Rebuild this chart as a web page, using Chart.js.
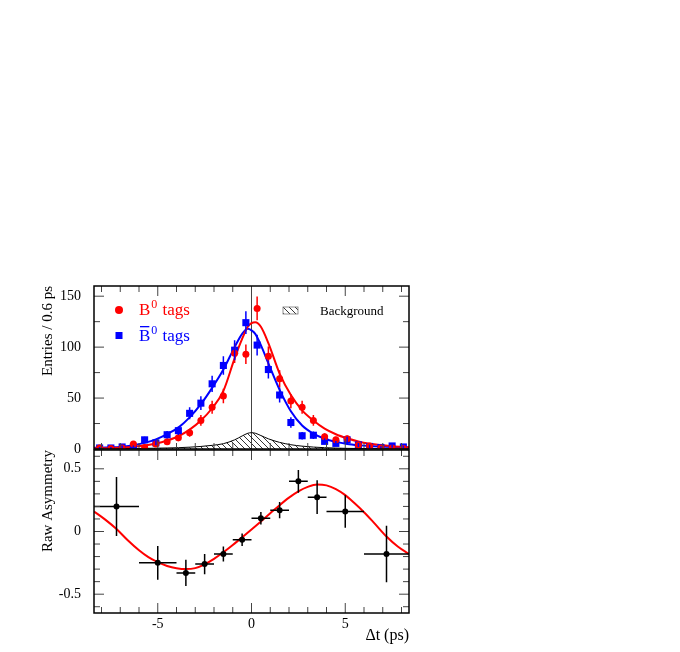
<!DOCTYPE html>
<html>
<head>
<meta charset="utf-8">
<script src="https://cdn.jsdelivr.net/npm/chart.js@4"></script>
<style>
  body { margin:0; background:#fff; }
  #wrap { position:relative; width:680px; height:652px; }
  canvas { position:absolute; left:0; }
  #top { top:270px; }
  #bot { top:440px; }
</style>
</head>
<body>
<div id="wrap">
  <canvas id="top" width="680" height="195"></canvas>
  <canvas id="bot" width="680" height="212"></canvas>
</div>
<script>
// ===== Δt distribution, 0.6 ps bins =====
const binCentres = [-8.1,-7.5,-6.9,-6.3,-5.7,-5.1,-4.5,-3.9,-3.3,-2.7,-2.1,-1.5,-0.9,-0.3,0.3,0.9,1.5,2.1,2.7,3.3,3.9,4.5,5.1,5.7,6.3,6.9,7.5,8.1];
const b0Tags    = [1,0.5,1,5,1.5,5,7,11,16,28,41,52,94,93,138,91,69,47,41,28,12,9,10,4,3,1,1,0.5];
const b0Err     = [1,0.7,1,2.2,1.2,2.2,2.6,3.3,4,5.3,6.4,7.2,9.7,9.6,11.7,9.5,8.3,6.9,6.4,5.3,3.5,3,3.2,2,1.7,1,1,0.7];
const b0barTags = [1,1,2,2,9,6,14,18,35,45,64,82,97,124,102,78,53,26,13,13.5,7.5,5.5,9,4,2.5,1.5,3,2];
const b0barErr  = [1,1,1.4,1.4,3,2.4,3.7,4.2,5.9,6.7,8,9.1,9.8,11.1,10.1,8.8,7.3,5.1,3.6,3.7,2.7,2.3,3,2,1.6,1.2,1.7,1.4];

// ===== Fit curves =====
const fitT     = [-8.4,-7.5,-6.9,-6.3,-5.7,-5.1,-4.5,-3.9,-3.3,-2.7,-2.1,-1.5,-0.9,-0.5,-0.2,0,0.2,0.5,0.9,1.5,2.1,2.7,3.3,3.9,4.5,5.1,5.7,6.3,7.5,8.4];
const b0Fit    = [0.5,0.9,1.4,2.2,3.4,5.3,8.3,12.5,19,28,40,57,89,108,120,123.5,124.5,120,104,74,53,38,28,20,14.5,10.5,7.3,5.2,2.8,1.8];
const b0barFit = [1.2,1.6,2.3,3.6,6,9.5,14.7,21,31,44,60,78,100,113,118,116.5,113,102,84,58,37,23,15,10,7,5,3.8,3,2,1.5];
const bkgFit   = [0.2,0.3,0.4,0.5,0.6,0.8,1,1.3,1.8,2.5,3.6,5.2,9,12.8,15.4,16,15.5,13.2,10,6.5,4.2,2.8,1.9,1.3,0.9,0.6,0.5,0.4,0.2,0.1];

// ===== Raw asymmetry =====
const asymT   = [-7.2,-5,-3.5,-2.5,-1.5,-0.5,0.5,1.5,2.5,3.5,5,7.2];
const asymLo  = [-8.4,-6,-4,-3,-2,-1,0,1,2,3,4,6];
const asymHi  = [-6,-4,-3,-2,-1,0,1,2,3,4,6,8.4];
const asymVal = [0.20,-0.25,-0.33,-0.26,-0.18,-0.066,0.106,0.17,0.40,0.274,0.16,-0.18];
const asymErr = [0.235,0.135,0.105,0.08,0.06,0.05,0.05,0.065,0.09,0.135,0.13,0.225];
const asymFitT = [-8.4,-7.8,-7.2,-6.6,-6,-5.5,-5,-4.5,-4,-3.5,-3,-2.5,-2,-1.5,-1,-0.5,0,0.5,1,1.5,2,2.5,3,3.5,4,4.5,5,5.5,6,6.5,7.2,7.8,8.4];
const asymFit  = [0.16,0.095,0.02,-0.07,-0.15,-0.205,-0.245,-0.275,-0.293,-0.30,-0.292,-0.262,-0.218,-0.166,-0.108,-0.046,0.016,0.08,0.145,0.21,0.27,0.32,0.356,0.375,0.368,0.338,0.29,0.225,0.154,0.075,-0.04,-0.12,-0.18];

// ===== Ticks =====
const xLabels    = [-5, 0, 5];
const xMinor     = [-8,-7,-6,-4,-3,-2,-1,1,2,3,4,6,7,8];
const yTopLabels = [0, 50, 100, 150];
const yTopMinor  = [25, 75, 125];
const yBotLabels = [-0.5, 0, 0.5];
const yBotMinor  = [-0.6,-0.4,-0.3,-0.2,-0.1,0.1,0.2,0.3,0.4,0.6];

const RED = '#ff0000', BLUE = '#0000ff';
const SERIF = "'Liberation Serif', 'DejaVu Serif', serif";
Chart.defaults.font.family = SERIF;
Chart.defaults.font.size = 14;
Chart.defaults.color = '#000';

const pts = (xs, ys) => xs.map((x, i) => ({x: x, y: ys[i]}));
// fixed axis boxes, no label overhang padding
const fixW = w => s => { s.width = w; s.paddingTop = 0; s.paddingBottom = 0; s.paddingLeft = 0; s.paddingRight = 0; };
const fixH = h => s => { s.height = h; s.paddingTop = 0; s.paddingBottom = 0; s.paddingLeft = 0; s.paddingRight = 0; };

// ===== Hatch pattern =====
function hatch(){
  const c = document.createElement('canvas'); c.width = 6; c.height = 6;
  const g = c.getContext('2d');
  g.strokeStyle = '#000'; g.lineWidth = 0.8;
  g.beginPath();
  g.moveTo(0,0); g.lineTo(6,6);
  g.moveTo(-3,3); g.lineTo(3,9);
  g.moveTo(3,-3); g.lineTo(9,3);
  g.stroke();
  return g.createPattern(c, 'repeat');
}
const hatchFill = hatch();

// ===== Plugins =====
const errorBars = {
  id: 'errorBars',
  afterDatasetsDraw(chart){
    const {ctx, chartArea: a, scales: {x, y}} = chart;
    ctx.save();
    ctx.beginPath(); ctx.rect(a.left, a.top, a.width, a.height); ctx.clip();
    chart.data.datasets.forEach(ds => {
      if(!ds.errY) return;
      ctx.strokeStyle = ds.pointBackgroundColor; ctx.lineWidth = 1.5;
      ctx.beginPath();
      ds.data.forEach((p, j) => {
        const px = x.getPixelForValue(p.x);
        ctx.moveTo(px, y.getPixelForValue(p.y - ds.errY[j]));
        ctx.lineTo(px, y.getPixelForValue(p.y + ds.errY[j]));
        if(ds.errXLo){
          const py = y.getPixelForValue(p.y);
          ctx.moveTo(x.getPixelForValue(ds.errXLo[j]), py);
          ctx.lineTo(x.getPixelForValue(ds.errXHi[j]), py);
        }
      });
      ctx.stroke();
    });
    ctx.restore();
  }
};

function frame(yMajor, yMinor){
  return {
    id: 'frame',
    afterDatasetsDraw(chart){
      const {ctx, chartArea: a, scales: {x, y}} = chart;
      const seg = (x1, y1, x2, y2) => { ctx.moveTo(x1, y1); ctx.lineTo(x2, y2); };
      ctx.save();
      ctx.strokeStyle = '#444'; ctx.lineWidth = 1;
      ctx.beginPath();
      xLabels.forEach(v => { const p = x.getPixelForValue(v); seg(p, a.bottom, p, a.bottom-10); seg(p, a.top, p, a.top+10); });
      xMinor.forEach(v => { const p = x.getPixelForValue(v); seg(p, a.bottom, p, a.bottom-6); seg(p, a.top, p, a.top+6); });
      yMajor.forEach(v => { const p = y.getPixelForValue(v); seg(a.left, p, a.left+10, p); seg(a.right, p, a.right-10, p); });
      yMinor.forEach(v => { const p = y.getPixelForValue(v); seg(a.left, p, a.left+6, p); seg(a.right, p, a.right-6, p); });
      ctx.stroke();
      ctx.strokeStyle = '#000'; ctx.lineWidth = 1.5;
      ctx.strokeRect(a.left, a.top, a.width, a.height);
      ctx.restore();
    }
  };
}

function tagLabel(ctx, x, y, color, bar){
  ctx.fillStyle = color;
  ctx.font = "17px " + SERIF;
  ctx.fillText('B', x, y);
  const wB = ctx.measureText('B').width;
  if(bar) ctx.fillRect(x + 1, y - 15, wB - 2, 1.3);
  ctx.font = "12px " + SERIF;
  ctx.fillText('0', x + wB + 1, y - 7);
  const w0 = ctx.measureText('0').width;
  ctx.font = "17px " + SERIF;
  ctx.fillText(' tags', x + wB + w0 + 2, y);
}

const topExtras = {
  id: 'topExtras',
  beforeDatasetsDraw(chart){
    const {ctx, chartArea: a, scales: {x}} = chart;
    const p = x.getPixelForValue(0);
    ctx.save(); ctx.strokeStyle = '#444'; ctx.lineWidth = 1;
    ctx.beginPath(); ctx.moveTo(p, a.top); ctx.lineTo(p, a.bottom); ctx.stroke();
    ctx.restore();
  },
  afterDraw(chart){
    const ctx = chart.ctx;
    ctx.save();
    ctx.textBaseline = 'alphabetic';
    // B0 tags
    ctx.fillStyle = RED;
    ctx.beginPath(); ctx.arc(119, 40, 4, 0, Math.PI*2); ctx.fill();
    tagLabel(ctx, 139, 45, RED, false);
    // anti-B0 tags
    ctx.fillStyle = BLUE;
    ctx.fillRect(115.5, 62, 7, 7);
    tagLabel(ctx, 139, 71, BLUE, true);
    // background
    ctx.fillStyle = hatchFill; ctx.fillRect(283, 37, 15, 7);
    ctx.strokeStyle = '#777'; ctx.lineWidth = 0.8; ctx.strokeRect(283, 37, 15, 7);
    ctx.fillStyle = '#000'; ctx.font = "13px " + SERIF;
    ctx.fillText('Background', 320, 45);
    ctx.restore();
  }
};

const common = {
  animation: false, responsive: false, events: [],
  plugins: { legend: {display:false}, tooltip: {enabled:false} }
};

// ===== Top: Δt distribution =====
new Chart(document.getElementById('top'), {
  type: 'line',
  data: { datasets: [
    { data: pts(binCentres, b0Tags), errY: b0Err, showLine: false, pointStyle: 'circle', pointRadius: 3.5,
      pointBackgroundColor: RED, pointBorderWidth: 0 },
    { data: pts(binCentres, b0barTags), errY: b0barErr, showLine: false, pointStyle: 'rect', pointRadius: 5,
      pointBackgroundColor: BLUE, pointBorderWidth: 0 },
    { data: pts(fitT, b0Fit), borderColor: RED, borderWidth: 2, pointRadius: 0, cubicInterpolationMode: 'monotone' },
    { data: pts(fitT, b0barFit), borderColor: BLUE, borderWidth: 2, pointRadius: 0, cubicInterpolationMode: 'monotone' },
    { data: pts(fitT, bkgFit), borderColor: '#000', borderWidth: 1, pointRadius: 0, cubicInterpolationMode: 'monotone',
      fill: 'origin', backgroundColor: hatchFill }
  ]},
  options: Object.assign({}, common, {
    layout: { autoPadding: false, padding: { left: 34, right: 271, top: 16, bottom: 16 } },
    scales: {
      x: { type: 'linear', min: -8.4, max: 8.4, display: false },
      y: { min: 0, max: 160, grid: {display:false}, border: {display:false},
           afterBuildTicks: s => { s.ticks = yTopLabels.map(v => ({value: v})); },
           afterFit: fixW(60),
           ticks: { padding: 5 },
           title: { display: true, text: 'Entries / 0.6 ps', align: 'end', font: {size: 15}, padding: {top: 5, bottom: 0} } }
    }
  }),
  plugins: [errorBars, frame(yTopLabels, yTopMinor), topExtras]
});

// ===== Bottom: raw asymmetry =====
new Chart(document.getElementById('bot'), {
  type: 'line',
  data: { datasets: [
    { data: pts(asymT, asymVal), errY: asymErr, errXLo: asymLo, errXHi: asymHi, showLine: false,
      pointStyle: 'circle', pointRadius: 3, pointBackgroundColor: '#000', pointBorderWidth: 0 },
    { data: pts(asymFitT, asymFit), borderColor: RED, borderWidth: 2, pointRadius: 0, cubicInterpolationMode: 'monotone' }
  ]},
  options: Object.assign({}, common, {
    layout: { autoPadding: false, padding: { left: 34, right: 271, top: 10, bottom: 0 } },
    scales: {
      x: { type: 'linear', min: -8.4, max: 8.4, grid: {display:false}, border: {display:false},
           afterBuildTicks: s => { s.ticks = xLabels.map(v => ({value: v})); },
           afterFit: fixH(39),
           ticks: { padding: -5, maxRotation: 0 },
           title: { display: true, text: 'Δt (ps)', align: 'end', font: {size: 16}, padding: {top: 0, bottom: 7} } },
      y: { min: -0.65, max: 0.65, grid: {display:false}, border: {display:false},
           afterBuildTicks: s => { s.ticks = yBotLabels.map(v => ({value: v})); },
           afterFit: fixW(60),
           ticks: { padding: 5 },
           title: { display: true, text: 'Raw Asymmetry', align: 'end', font: {size: 15}, padding: {top: 5, bottom: 0} } }
    }
  }),
  plugins: [errorBars, frame(yBotLabels, yBotMinor)]
});
</script>
</body>
</html>
